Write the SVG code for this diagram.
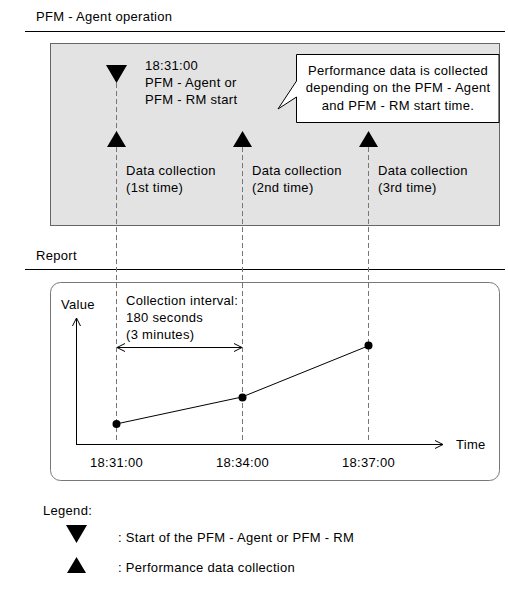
<svg xmlns="http://www.w3.org/2000/svg" width="508" height="609" viewBox="0 0 508 609">
<defs>
<style>
text{font-family:"Liberation Sans",Arial,sans-serif;font-size:13px;letter-spacing:0.3px;fill:#000}
.dash{stroke:#777;stroke-width:1;stroke-dasharray:5 3;fill:none}
.ln{stroke:#000;stroke-width:1;fill:none}
.tri{fill:#000}
</style>
<marker id="open" viewBox="0 0 10 10" refX="9" refY="5" markerWidth="10" markerHeight="10" markerUnits="userSpaceOnUse" orient="auto-start-reverse">
<path d="M1,1 L9,5 L1,9" fill="none" stroke="#000" stroke-width="1"/>
</marker>
</defs>
<rect width="508" height="609" fill="#fff"/>
<g id="section-agent">
<text x="36" y="21">PFM - Agent operation</text>
<line x1="25" y1="31.5" x2="505" y2="31.5" stroke="#000"/>
<rect x="50.5" y="43.5" width="449" height="182" fill="#e3e3e3" stroke="#666"/>
</g>
<g id="section-report">
<text x="36" y="260">Report</text>
<line x1="25" y1="269.5" x2="505" y2="269.5" stroke="#000"/>
<rect x="50.5" y="282.5" width="449" height="198" rx="10" fill="none" stroke="#777"/>
</g>
<g id="connectors">
<line class="dash" x1="116.5" y1="83" x2="116.5" y2="442"/>
<line class="dash" x1="242.5" y1="147" x2="242.5" y2="442"/>
<line class="dash" x1="368.5" y1="147" x2="368.5" y2="442"/>
<line class="ln" x1="76.5" y1="444.5" x2="76.5" y2="318" marker-end="url(#open)"/>
<line class="ln" x1="76" y1="444.5" x2="443" y2="444.5" marker-end="url(#open)"/>
<line class="ln" x1="117" y1="347.5" x2="242" y2="347.5" marker-start="url(#open)" marker-end="url(#open)"/>
<polyline class="ln" points="116,424 242,397 368,346"/>
</g>
<g id="start-marker">
<polygon class="tri" points="106,65 127,65 116.5,83"/>
<text x="145" y="70">18:31:00</text>
<text x="145" y="87">PFM - Agent or</text>
<text x="145" y="104">PFM - RM start</text>
</g>
<g id="callout">
<path d="M296.5,54.5 H499 V122.5 H296.5 V97 L278,109 L296.5,81 Z" fill="#fff" stroke="#000"/>
<text x="398" y="75" text-anchor="middle">Performance data is collected</text>
<text x="398" y="92" text-anchor="middle">depending on the PFM - Agent</text>
<text x="398" y="110" text-anchor="middle">and PFM - RM start time.</text>
</g>
<g id="collection-1">
<polygon class="tri" points="116.5,131 107,147 126,147"/>
<text x="126" y="175">Data collection</text>
<text x="126" y="192">(1st time)</text>
</g>
<g id="collection-2">
<polygon class="tri" points="242.5,131 233,147 252,147"/>
<text x="252" y="175">Data collection</text>
<text x="252" y="192">(2nd time)</text>
</g>
<g id="collection-3">
<polygon class="tri" points="368.5,131 359,147 378,147"/>
<text x="378" y="175">Data collection</text>
<text x="378" y="192">(3rd time)</text>
</g>
<g id="chart">
<text x="61" y="309">Value</text>
<text x="456" y="449">Time</text>
<text x="126" y="305">Collection interval:</text>
<text x="126" y="322">180 seconds</text>
<text x="126" y="339">(3 minutes)</text>
<circle cx="116.5" cy="424" r="4"/>
<circle cx="242.5" cy="397.5" r="4"/>
<circle cx="368.5" cy="345.5" r="4"/>
<text x="116.5" y="467" text-anchor="middle">18:31:00</text>
<text x="242.5" y="467" text-anchor="middle">18:34:00</text>
<text x="368.5" y="467" text-anchor="middle">18:37:00</text>
</g>
<g id="legend">
<text x="43" y="515">Legend:</text>
<polygon class="tri" points="66,525 87,525 76.5,543"/>
<text x="118" y="542">: Start of the PFM - Agent or PFM - RM</text>
<polygon class="tri" points="76.5,557 67,573 86,573"/>
<text x="118" y="572">: Performance data collection</text>
</g>
</svg>
